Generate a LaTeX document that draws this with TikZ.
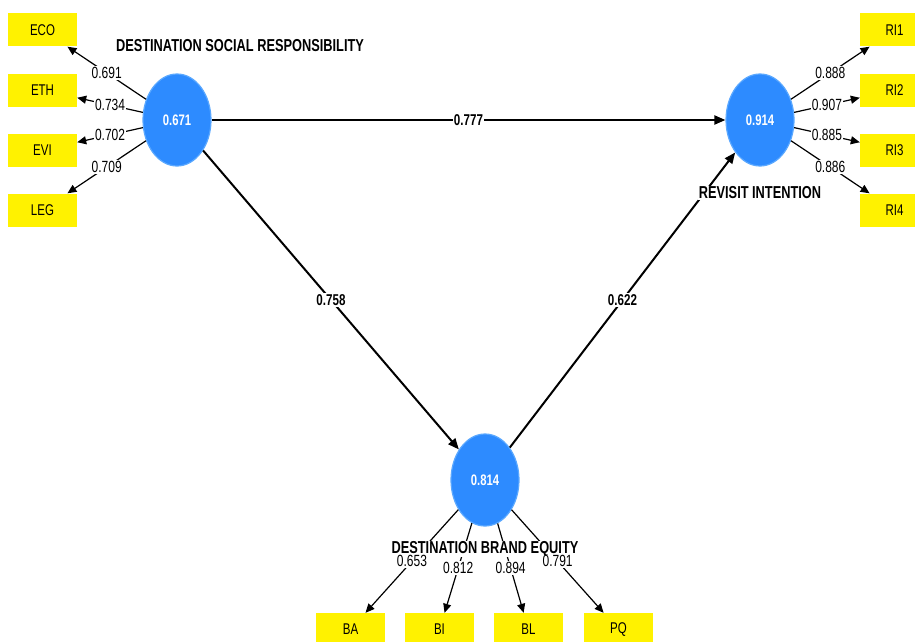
\documentclass[tikz,border=0pt]{standalone}
\usepackage{fontspec}
\setmainfont{Liberation Sans}
\usetikzlibrary{arrows.meta,shapes.geometric}
\newcommand{\vst}[1]{\scalebox{1}[1.35]{#1}}
\definecolor{lvblue}{HTML}{2D8BFF}
\definecolor{lvrim}{HTML}{5AA8FF}
\begin{document}
\begin{tikzpicture}[x=1pt,y=-1pt,
  latent/.style={ellipse, fill=lvblue, draw=lvrim, line width=1.2pt, minimum width=68pt, minimum height=92pt, inner sep=0pt, text=white, font=\fontsize{11.3}{12}\selectfont\bfseries},
  ind/.style={rectangle, fill=yellow, minimum width=69pt, minimum height=33pt, inner sep=0pt, font=\fontsize{11.5}{12}\selectfont},
  load/.style={-{Triangle[length=9pt,width=8pt]}, line width=1.2pt},
  pathc/.style={-{Triangle[length=11pt,width=9pt]}, line width=2pt},
  wt/.style={fill=white, inner sep=1pt, font=\fontsize{12}{12}\selectfont},
  pc/.style={fill=white, inner sep=1pt, font=\fontsize{11.6}{12}\selectfont\bfseries},
  cname/.style={font=\fontsize{12.8}{13}\selectfont\bfseries, inner sep=0.5pt}]
\useasboundingbox[fill=white] (0,0) rectangle (915,642);

% latent variables
\node[latent] (dsr) at (177,120) {\vst{0.671}};
\node[latent] (ri) at (760,120) {\vst{0.914}};
\node[latent] (dbe) at (485,480) {\vst{0.814}};

% indicators
\node[ind] (eco) at (42.5,30) {\vst{ECO}};
\node[ind] (eth) at (42.5,90) {\vst{ETH}};
\node[ind] (evi) at (42.5,150) {\vst{EVI}};
\node[ind] (leg) at (42.5,210) {\vst{LEG}};
\node[ind] (ri1) at (894.5,30) {\vst{RI1}};
\node[ind] (ri2) at (894.5,90) {\vst{RI2}};
\node[ind] (ri3) at (894.5,150) {\vst{RI3}};
\node[ind] (ri4) at (894.5,210) {\vst{RI4}};
\node[ind] (ba) at (350.5,629.5) {\vst{BA}};
\node[ind] (bi) at (439.5,629.5) {\vst{BI}};
\node[ind] (bl) at (528.5,629.5) {\vst{BL}};
\node[ind] (pq) at (618.5,629.5) {\vst{PQ}};

% structural paths
\draw[pathc] (dsr) -- node[pc]{\vst{0.777}} (ri);
\draw[pathc] (dsr) -- node[pc]{\vst{0.758}} (dbe);
\draw[pathc] (dbe) -- node[pc]{\vst{0.622}} (ri);

% outer loadings
\draw[load] (dsr) -- node[wt]{\vst{0.691}} (eco);
\draw[load] (dsr) -- node[wt]{\vst{0.734}} (eth);
\draw[load] (dsr) -- node[wt]{\vst{0.702}} (evi);
\draw[load] (dsr) -- node[wt]{\vst{0.709}} (leg);
\draw[load] (ri) -- node[wt]{\vst{0.888}} (ri1);
\draw[load] (ri) -- node[wt]{\vst{0.907}} (ri2);
\draw[load] (ri) -- node[wt]{\vst{0.885}} (ri3);
\draw[load] (ri) -- node[wt]{\vst{0.886}} (ri4);
\draw[load] (dbe) -- (ba);
\draw[load] (dbe) -- (bi);
\draw[load] (dbe) -- (bl);
\draw[load] (dbe) -- (pq);

% construct names
\node[cname] (ndsr) at (240,46) {\vst{DESTINATION SOCIAL RESPONSIBILITY}};
\node[cname, fill=white] (nri) at (760,193) {\vst{REVISIT INTENTION}};
\node[cname, fill=white] (ndbe) at (485,549) {\vst{DESTINATION BRAND EQUITY}};

% bottom loading labels on top of the name
\path (dbe) -- node[wt]{\vst{0.653}} (ba);
\path (dbe) -- node[wt]{\vst{0.812}} (bi);
\path (dbe) -- node[wt]{\vst{0.894}} (bl);
\path (dbe) -- node[wt]{\vst{0.791}} (pq);
\end{tikzpicture}
\end{document}
